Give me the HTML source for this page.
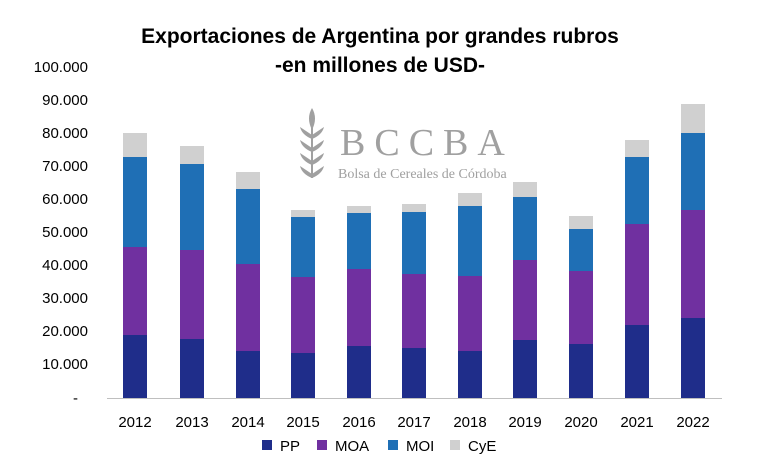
<!DOCTYPE html>
<html><head><meta charset="utf-8"><style>body{margin:0;background:#fff}</style></head><body>
<svg width="760" height="464" xmlns="http://www.w3.org/2000/svg" font-family="Liberation Sans, sans-serif">
<rect width="760" height="464" fill="#fff"/>
<text x="380" y="43" text-anchor="middle" font-size="21" font-weight="bold">Exportaciones de Argentina por grandes rubros</text>
<text x="380" y="72" text-anchor="middle" font-size="21" font-weight="bold">-en millones de USD-</text>
<g fill="#a0a0a0">
<path d="M312 108 q-6 10 0 22 q6 -12 0 -22z"/>
<path d="M312 128 v50" stroke="#a0a0a0" stroke-width="2"/>
<path d="M312 135 l-12 -8 q2 8 12 12z M312 148 l-12 -8 q2 8 12 12z M312 161 l-12 -8 q2 8 12 12z M312 174 l-12 -8 q2 8 12 12z"/>
<path d="M312 135 l12 -8 q-2 8 -12 12z M312 148 l12 -8 q-2 8 -12 12z M312 161 l12 -8 q-2 8 -12 12z M312 174 l12 -8 q-2 8 -12 12z"/>
</g>
<text x="340" y="155" font-family="Liberation Serif, serif" font-size="38" fill="#a0a0a0" letter-spacing="9">BCCBA</text>
<text x="338" y="178" font-family="Liberation Serif, serif" font-size="14" fill="#a0a0a0">Bolsa de Cereales de Córdoba</text>
<g font-size="15" text-anchor="end" fill="#000">
<text x="88" y="72">100.000</text><text x="88" y="105">90.000</text><text x="88" y="138">80.000</text>
<text x="88" y="171">70.000</text><text x="88" y="204">60.000</text><text x="88" y="237">50.000</text>
<text x="88" y="270">40.000</text><text x="88" y="303">30.000</text><text x="88" y="336">20.000</text>
<text x="88" y="369">10.000</text><text x="78" y="403">-</text>
</g>
<g>
<rect x="123" y="335" width="24" height="63" fill="#1f2d8a"/><rect x="123" y="247" width="24" height="88" fill="#7030a0"/><rect x="123" y="157" width="24" height="90" fill="#1f6fb5"/><rect x="123" y="133" width="24" height="24" fill="#d0d0d0"/>
<rect x="180" y="339" width="24" height="59" fill="#1f2d8a"/><rect x="180" y="250" width="24" height="89" fill="#7030a0"/><rect x="180" y="164" width="24" height="86" fill="#1f6fb5"/><rect x="180" y="146" width="24" height="18" fill="#d0d0d0"/>
<rect x="236" y="351" width="24" height="47" fill="#1f2d8a"/><rect x="236" y="264" width="24" height="87" fill="#7030a0"/><rect x="236" y="189" width="24" height="75" fill="#1f6fb5"/><rect x="236" y="172" width="24" height="17" fill="#d0d0d0"/>
<rect x="291" y="353" width="24" height="45" fill="#1f2d8a"/><rect x="291" y="277" width="24" height="76" fill="#7030a0"/><rect x="291" y="217" width="24" height="60" fill="#1f6fb5"/><rect x="291" y="210" width="24" height="7" fill="#d0d0d0"/>
<rect x="347" y="346" width="24" height="52" fill="#1f2d8a"/><rect x="347" y="269" width="24" height="77" fill="#7030a0"/><rect x="347" y="213" width="24" height="56" fill="#1f6fb5"/><rect x="347" y="206" width="24" height="7" fill="#d0d0d0"/>
<rect x="402" y="348" width="24" height="50" fill="#1f2d8a"/><rect x="402" y="274" width="24" height="74" fill="#7030a0"/><rect x="402" y="212" width="24" height="62" fill="#1f6fb5"/><rect x="402" y="204" width="24" height="8" fill="#d0d0d0"/>
<rect x="458" y="351" width="24" height="47" fill="#1f2d8a"/><rect x="458" y="276" width="24" height="75" fill="#7030a0"/><rect x="458" y="206" width="24" height="70" fill="#1f6fb5"/><rect x="458" y="193" width="24" height="13" fill="#d0d0d0"/>
<rect x="513" y="340" width="24" height="58" fill="#1f2d8a"/><rect x="513" y="260" width="24" height="80" fill="#7030a0"/><rect x="513" y="197" width="24" height="63" fill="#1f6fb5"/><rect x="513" y="182" width="24" height="15" fill="#d0d0d0"/>
<rect x="569" y="344" width="24" height="54" fill="#1f2d8a"/><rect x="569" y="271" width="24" height="73" fill="#7030a0"/><rect x="569" y="229" width="24" height="42" fill="#1f6fb5"/><rect x="569" y="216" width="24" height="13" fill="#d0d0d0"/>
<rect x="625" y="325" width="24" height="73" fill="#1f2d8a"/><rect x="625" y="224" width="24" height="101" fill="#7030a0"/><rect x="625" y="157" width="24" height="67" fill="#1f6fb5"/><rect x="625" y="140" width="24" height="17" fill="#d0d0d0"/>
<rect x="681" y="318" width="24" height="80" fill="#1f2d8a"/><rect x="681" y="210" width="24" height="108" fill="#7030a0"/><rect x="681" y="133" width="24" height="77" fill="#1f6fb5"/><rect x="681" y="104" width="24" height="29" fill="#d0d0d0"/>
</g>
<line x1="107" y1="398.5" x2="722" y2="398.5" stroke="#bfbfbf"/>
<g font-size="15" text-anchor="middle">
<text x="135" y="427">2012</text><text x="192" y="427">2013</text><text x="248" y="427">2014</text>
<text x="303" y="427">2015</text><text x="359" y="427">2016</text><text x="414" y="427">2017</text>
<text x="470" y="427">2018</text><text x="525" y="427">2019</text><text x="581" y="427">2020</text>
<text x="637" y="427">2021</text><text x="693" y="427">2022</text>
</g>
<g font-size="15">
<rect x="262" y="440" width="10" height="10" fill="#1f2d8a"/><text x="280" y="451">PP</text>
<rect x="317" y="440" width="10" height="10" fill="#7030a0"/><text x="335" y="451">MOA</text>
<rect x="388" y="440" width="10" height="10" fill="#1f6fb5"/><text x="406" y="451">MOI</text>
<rect x="450" y="440" width="10" height="10" fill="#d0d0d0"/><text x="468" y="451">CyE</text>
</g>
</svg>
</body></html>
